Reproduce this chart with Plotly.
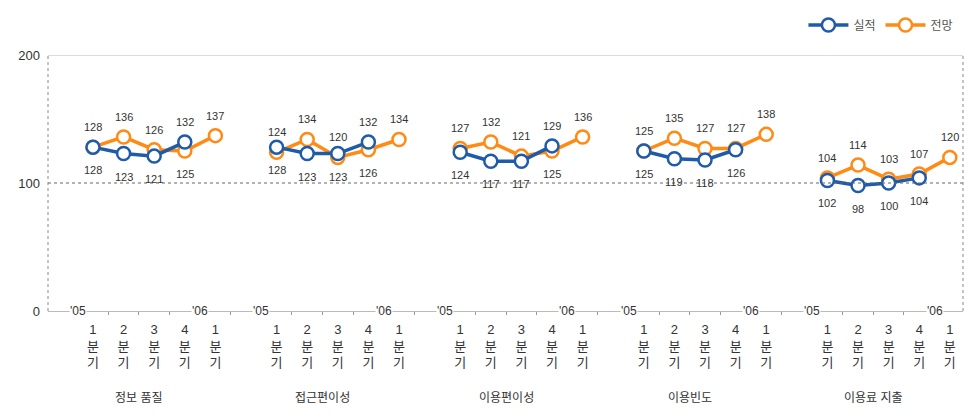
import plotly.graph_objects as go

groups = ["정보 품질", "접근편이성", "이용편이성", "이용빈도", "이용료 지출"]
quarters = ["1<br>분<br>기", "2<br>분<br>기", "3<br>분<br>기", "4<br>분<br>기", "1<br>분<br>기"]
year_labels = ["'05", "'06"]
actual = [
    [128, 123, 121, 132],
    [128, 123, 123, 132],
    [124, 117, 117, 129],
    [125, 119, 118, 126],
    [102, 98, 100, 104],
]
outlook = [
    [128, 136, 126, 125, 137],
    [124, 134, 120, 126, 134],
    [127, 132, 121, 125, 136],
    [125, 135, 127, 127, 138],
    [104, 114, 103, 107, 120],
]
series_names = ["실적", "전망"]

BLUE = "#1f5bab"
ORANGE = "#ff8a14"
TXT = "#333333"
FONT = "Liberation Sans, Noto Sans CJK KR"
STEP = 6
UP, DOWN = 20, -23

def build(values_list):
    xs, ys = [], []
    for g, vals in enumerate(values_list):
        for j, v in enumerate(vals):
            xs.append(g * STEP + j)
            ys.append(v)
        xs.append(None); ys.append(None)
    return xs, ys

ox, oy = build(outlook)
ax, ay = build(actual)

fig = go.Figure()
fig.add_trace(go.Scatter(
    x=ox, y=oy, name=series_names[1], mode="lines+markers",
    line=dict(color=ORANGE, width=3.5),
    marker=dict(symbol="circle", size=13, color="white", line=dict(color=ORANGE, width=2.5)),
    connectgaps=False,
))
fig.add_trace(go.Scatter(
    x=ax, y=ay, name=series_names[0], mode="lines+markers",
    line=dict(color=BLUE, width=3.5),
    marker=dict(symbol="circle", size=13, color="white", line=dict(color=BLUE, width=2.5)),
    connectgaps=False,
))

annotations = []
for g in range(len(groups)):
    for j, v in enumerate(outlook[g]):
        up = True
        if j == 3 and v < actual[g][3]:
            up = False
        annotations.append(dict(x=g * STEP + j, y=v, xref="x", yref="y", text=str(v),
                                showarrow=False, yshift=UP if up else DOWN,
                                font=dict(size=11, color=TXT, family=FONT)))
    for j, v in enumerate(actual[g]):
        up = False
        if j == 3 and v > outlook[g][3]:
            up = True
        annotations.append(dict(x=g * STEP + j, y=v, xref="x", yref="y", text=str(v),
                                showarrow=False, yshift=UP if up else DOWN,
                                font=dict(size=11, color=TXT, family=FONT)))

tickvals, ticktext = [], []
for g in range(len(groups)):
    for j, q in enumerate(quarters):
        tickvals.append(g * STEP + j)
        ticktext.append(q)

for g, name in enumerate(groups):
    for xo, lab in zip([-0.5, 3.5], year_labels):
        annotations.append(dict(x=g * STEP + xo, y=0, xref="x", yref="y", text=lab,
                                showarrow=False, bgcolor="white", borderpad=0,
                                font=dict(size=12, color=TXT, family=FONT)))
    annotations.append(dict(x=g * STEP + 1.5, y=-0.34, xref="x", yref="paper", text=name,
                            showarrow=False, yanchor="middle",
                            font=dict(size=12, color=TXT, family=FONT)))

shapes = [
    dict(type="line", xref="paper", yref="y", x0=0, x1=1, y0=100, y1=100,
         line=dict(color="#666666", width=1, dash="dot")),
    dict(type="line", xref="paper", yref="y", x0=0, x1=1, y0=200, y1=200,
         line=dict(color="#bbbbbb", width=1)),
    dict(type="line", xref="paper", yref="paper", x0=0, x1=0, y0=0, y1=1,
         line=dict(color="#888888", width=1, dash="dot")),
    dict(type="line", xref="paper", yref="paper", x0=1, x1=1, y0=0, y1=1,
         line=dict(color="#888888", width=1, dash="dot")),
]

fig.update_layout(
    width=966, height=411,
    margin=dict(l=40, r=11, t=47, b=108, autoexpand=False),
    paper_bgcolor="white", plot_bgcolor="white",
    font=dict(family=FONT, color=TXT),
    showlegend=True,
    legend=dict(orientation="h", x=0.995, xanchor="right", y=1.117, yanchor="middle",
                font=dict(size=12, color="#555555", family=FONT), traceorder="reversed",
                itemwidth=40, bgcolor="rgba(0,0,0,0)"),
    xaxis=dict(range=[-1.47, 28.43], tickvals=tickvals, ticktext=ticktext, automargin=False,
               showgrid=False, zeroline=False, showline=True, linecolor="#bbbbbb", linewidth=1,
               ticks="", ticklabelstandoff=6, tickfont=dict(size=13, color=TXT, family=FONT),
               minor=dict(tick0=0.5, dtick=1, ticks="outside", ticklen=3, tickcolor="#999999")),
    yaxis=dict(range=[0, 200], tickvals=[0, 100, 200], showgrid=False, zeroline=False,
               automargin=False, showline=False, ticks="", ticklabelstandoff=7,
               tickfont=dict(size=13, color=TXT, family=FONT)),
    shapes=shapes, annotations=annotations,
)

fig.write_html("out.html")
